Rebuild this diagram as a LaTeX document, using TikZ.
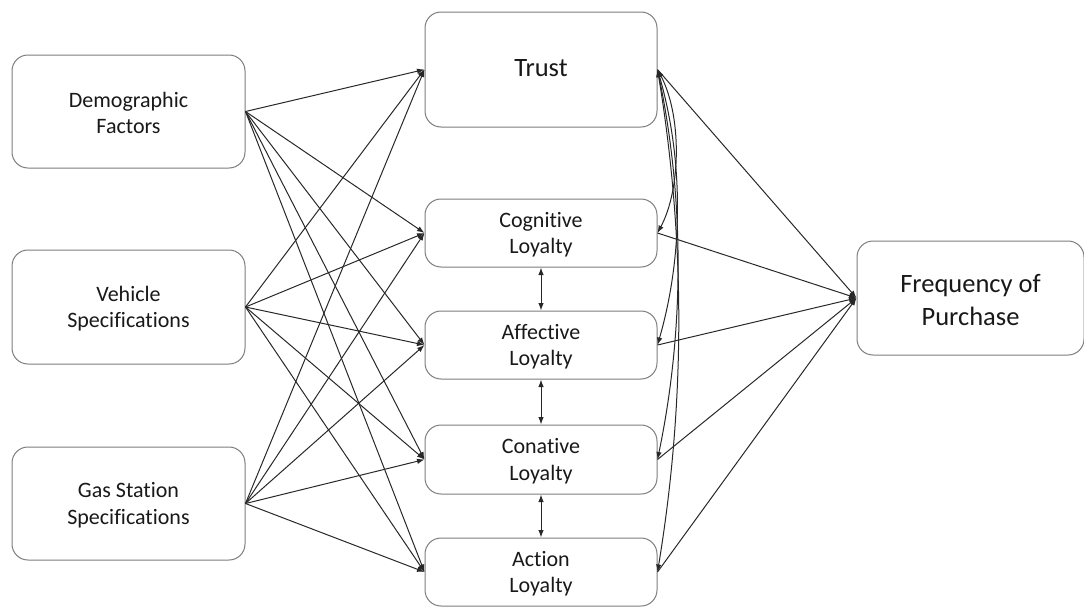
\documentclass[tikz,border=0pt]{standalone}
\usepackage{fontspec}
\setmainfont[Ligatures={NoCommon,NoRare,NoContextual}]{Carlito}
\usetikzlibrary{arrows.meta}
\definecolor{boxgray}{RGB}{125,125,125}
\definecolor{linec}{RGB}{40,40,40}
\definecolor{txt}{RGB}{25,25,25}
\begin{document}
\begin{tikzpicture}[x=1pt,y=-1pt,
  box/.style={draw=boxgray,line width=1pt,rounded corners=16pt,fill=white,
    inner sep=0pt,align=center,text=txt},
  small/.style={font=\fontsize{22}{26.5}\selectfont},
  big/.style={font=\fontsize{26.5}{33}\selectfont},
  conn/.style={draw=linec,line width=1pt,-{Latex[length=7.5pt,width=5.5pt]}},
  dconn/.style={draw=linec,line width=1pt,{Latex[length=7.5pt,width=5.5pt]}-{Latex[length=7.5pt,width=5.5pt]}}]
\useasboundingbox (0,0) rectangle (1084,608);
% left boxes
\node[box,small,minimum width=233pt,minimum height=113pt] (dem) at (128.5,111.5) {\strut Demographic\\Factors};
\node[box,small,minimum width=233pt,minimum height=114pt] (veh) at (128.5,307) {\strut Vehicle\\Specifications};
\node[box,small,minimum width=233pt,minimum height=113pt] (gas) at (128.5,503.5) {\strut Gas Station\\Specifications};
% middle boxes
\node[box,big,minimum width=232pt,minimum height=115pt] (trust) at (541,69.5) {\strut Trust};
\node[box,small,minimum width=232pt,minimum height=68pt] (cog) at (541,233) {\strut Cognitive\\Loyalty};
\node[box,small,minimum width=232pt,minimum height=68pt] (aff) at (541,345) {\strut Affective\\Loyalty};
\node[box,small,minimum width=232pt,minimum height=69pt] (con) at (541,459.5) {\strut Conative\\Loyalty};
\node[box,small,minimum width=232pt,minimum height=68pt] (act) at (541,572) {\strut Action\\Loyalty};
% right box
\node[box,big,minimum width=227pt,minimum height=114pt] (freq) at (970.5,298) {\strut Frequency of\\Purchase};
% left to middle
\foreach \s in {dem,veh,gas}{
  \foreach \t in {trust,cog,aff,con,act}{
    \draw[conn] (\s.east) -- (\t.west);
  }
}
% middle to frequency
\foreach \t in {trust,cog,aff,con,act}{
  \draw[conn] (\t.east) -- (freq.west);
}
% vertical double arrows
\draw[dconn] (cog.south) -- (aff.north);
\draw[dconn] (aff.south) -- (con.north);
\draw[dconn] (con.south) -- (act.north);
% curved covariances from trust
\draw[dconn] (trust.east) .. controls +(24,45) and +(24,-45) .. (cog.east);
\draw[dconn] (trust.east) .. controls +(26,90) and +(26,-90) .. (aff.east);
\draw[dconn] (trust.east) .. controls +(27,130) and +(27,-130) .. (con.east);
\draw[dconn] (trust.east) .. controls +(28,170) and +(28,-170) .. (act.east);
\end{tikzpicture}
\end{document}
